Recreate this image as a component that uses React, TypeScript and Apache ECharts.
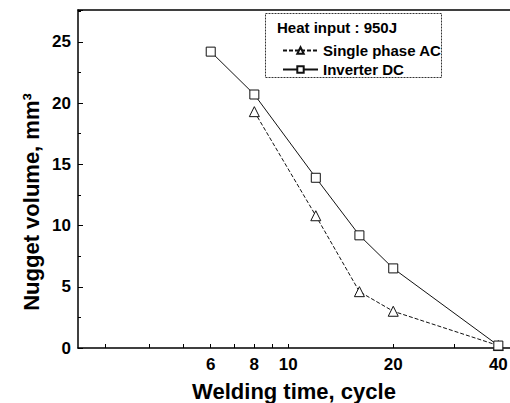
import React, { useEffect, useRef } from "react";
import * as echarts from "echarts";

const FONT = "'Liberation Sans', Arial, sans-serif";

const dcTimes = [6, 8, 12, 16, 20, 40];
const dcVolume = [24.2, 20.7, 13.9, 9.2, 6.5, 0.2];
const acTimes = [8, 12, 16, 20, 40];
const acVolume = [19.3, 10.8, 4.6, 3.0, 0.2];

const xLabelTicks = [6, 8, 10, 20, 40];
const xMinorTicks = [3, 4, 5, 6, 7, 8, 9, 10, 20, 30, 40];
const yTicks = [0, 5, 10, 15, 20, 25];

const legendTitle = "Heat input : 950J";
const acName = "Single phase AC";
const dcName = "Inverter DC";

export default function App() {
  const ref = useRef<HTMLDivElement>(null);
  useEffect(() => {
    if (!ref.current) return;
    const chart = echarts.init(ref.current, undefined, { renderer: "svg" });
    const lineColor = "#111";
    chart.setOption({
      animation: false,
      backgroundColor: "#fff",
      grid: { left: 78, right: 0, top: 10, bottom: 55, containLabel: false, outerBoundsMode: "none" },
      xAxis: [
        {
          type: "log",
          logBase: 10,
          min: 2.5,
          max: 43.2,
          name: "Welding time, cycle",
          nameLocation: "middle",
          nameGap: 32,
          nameTextStyle: { fontFamily: FONT, fontWeight: "bold", fontSize: 22, color: "#000" },
          axisLine: { lineStyle: { color: "#000", width: 1.5 } },
          axisTick: { show: true, inside: true, length: 4, customValues: xMinorTicks, lineStyle: { color: "#000", width: 1 } },
          minorTick: { show: false },
          axisLabel: {
            customValues: xLabelTicks,
            margin: 8,
            fontFamily: FONT,
            fontWeight: "bold",
            fontSize: 17,
            color: "#000",
            formatter: (v: number) => String(Math.round(v)),
          },
          splitLine: { show: false },
        },
        {
          type: "value",
          position: "top",
          gridIndex: 0,
          axisLine: { show: true, onZero: false, lineStyle: { color: "#000", width: 1.5 } },
          axisTick: { show: false },
          axisLabel: { show: false },
          splitLine: { show: false },
        },
      ],
      yAxis: {
        type: "value",
        min: 0,
        max: 27.6,
        interval: 5,
        axisLine: { show: true, lineStyle: { color: "#000", width: 1.5 } },
        axisTick: { inside: true, length: 5, lineStyle: { color: "#000" } },
        minorTick: { show: true, splitNumber: 2, length: 3, lineStyle: { color: "#000" } },
        axisLabel: {
          margin: 7,
          fontFamily: FONT,
          fontWeight: "bold",
          fontSize: 17,
          color: "#000",
          showMaxLabel: false,
          formatter: (v: number) => (yTicks.indexOf(v) >= 0 ? String(v) : ""),
        },
        splitLine: { show: false },
      },
      legend: {
        orient: "vertical",
        left: 277,
        top: 38,
        z: 20,
        itemWidth: 35,
        itemHeight: 8,
        itemGap: 4,
        textStyle: { fontFamily: FONT, fontWeight: "bold", fontSize: 15, color: "#000" },
        data: [acName, dcName],
      },
      graphic: [
        {
          type: "rect",
          z: -1,
          shape: { x: 265.5, y: 13.5, width: 176, height: 64 },
          style: { fill: "#fff", stroke: "#333", lineWidth: 1, lineDash: [2, 1] },
        },
        {
          type: "text",
          x: 277,
          y: 27,
          style: {
            text: legendTitle,
            fontFamily: FONT,
            fontWeight: "bold",
            fontSize: 15,
            fill: "#000",
            textVerticalAlign: "middle",
          },
        },
        {
          type: "text",
          x: 31,
          y: 202,
          rotation: Math.PI / 2,
          style: {
            text: "Nugget volume, mm³",
            fontFamily: FONT,
            fontWeight: "bold",
            fontSize: 22,
            fill: "#000",
            textAlign: "center",
            textVerticalAlign: "middle",
          },
        },
      ],
      series: [
        {
          name: acName,
          type: "line",
          data: acTimes.map((t, i) => [t, acVolume[i]]),
          symbol: "triangle",
          symbolSize: 10,
          itemStyle: { color: "#fff", borderColor: lineColor, borderWidth: 1 },
          lineStyle: { color: lineColor, width: 1, type: [4, 2] },
          z: 3,
        },
        {
          name: dcName,
          type: "line",
          data: dcTimes.map((t, i) => [t, dcVolume[i]]),
          symbol: "rect",
          symbolSize: 9,
          itemStyle: { color: "#fff", borderColor: lineColor, borderWidth: 1 },
          lineStyle: { color: lineColor, width: 1 },
          z: 3,
        },
      ],
    });
    return () => chart.dispose();
  }, []);
  return (
    <div
      ref={ref}
      style={{ position: "fixed", left: 0, top: 0, width: 510, height: 403 }}
    />
  );
}
